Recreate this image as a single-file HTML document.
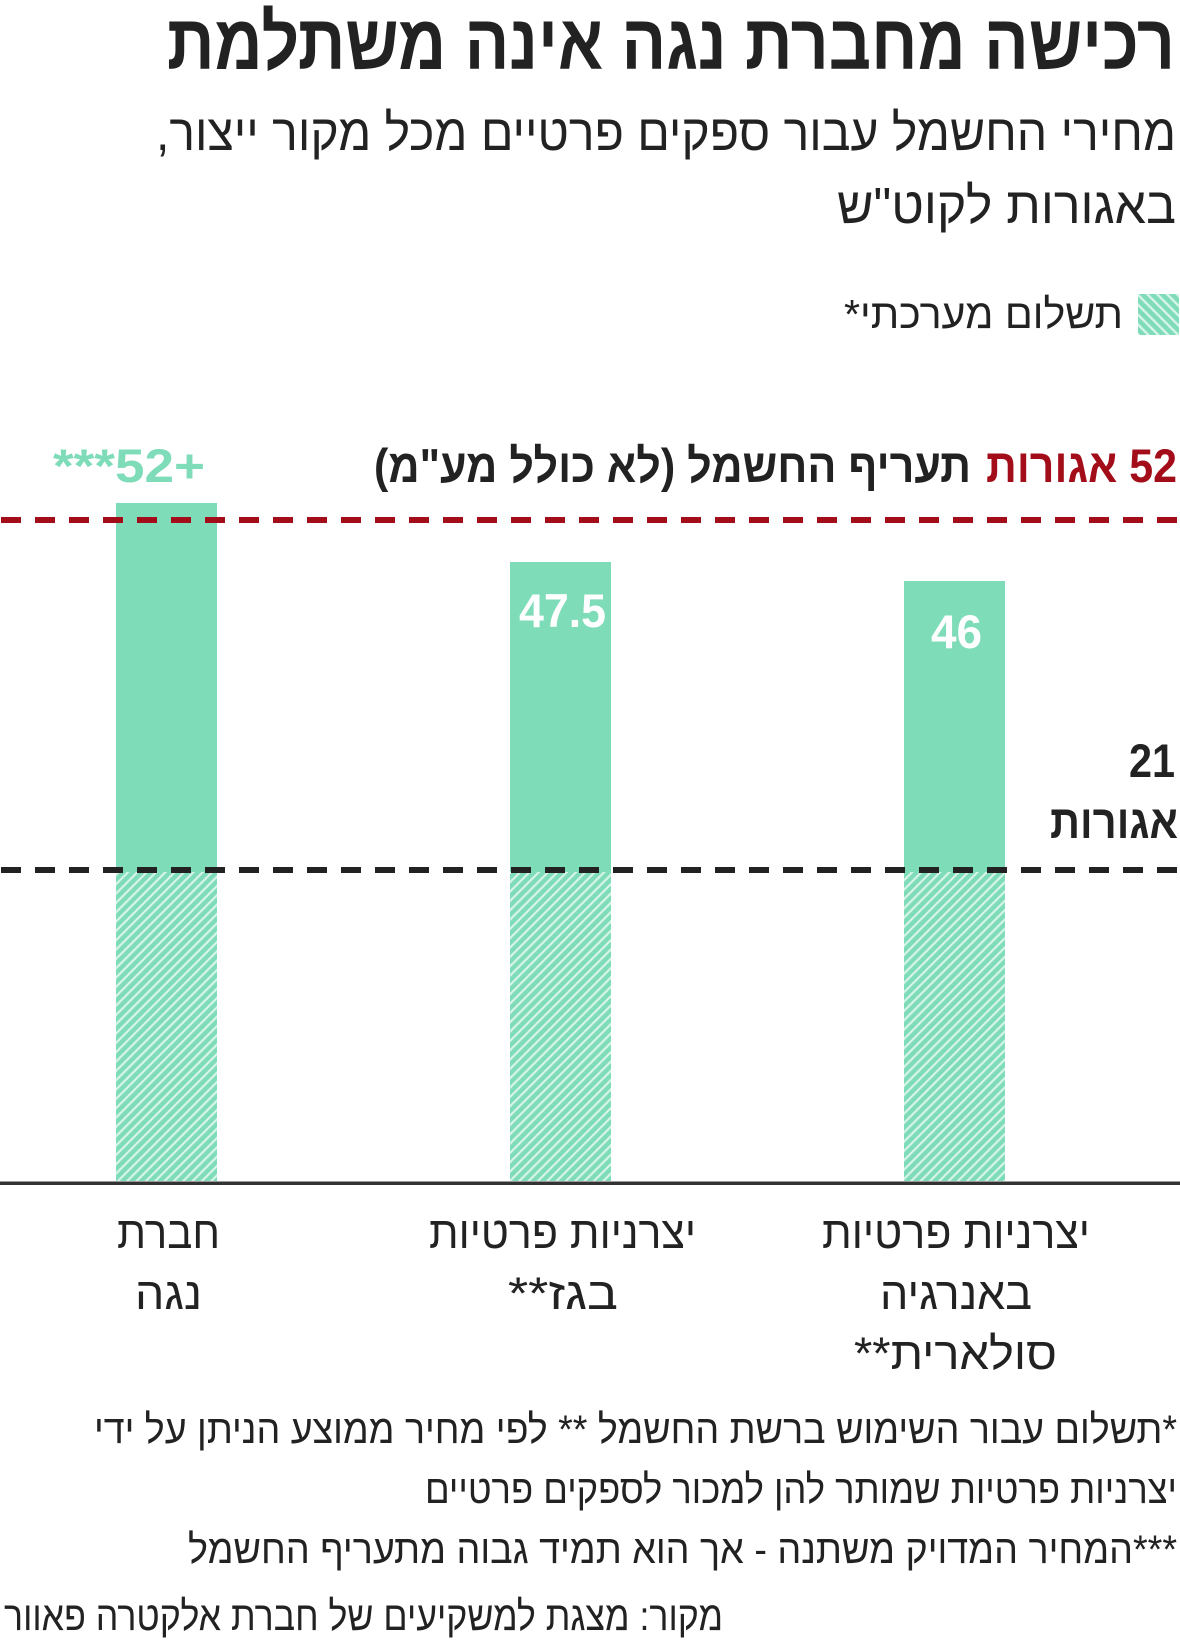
<!DOCTYPE html>
<html>
<head>
<meta charset="utf-8">
<style>
html,body{margin:0;padding:0;background:#fff;}
svg{display:block;}
text{font-family:"Liberation Sans","DejaVu Sans",sans-serif;}
.rtl{direction:rtl;unicode-bidi:embed;}
</style>
</head>
<body>
<svg width="1180" height="1646" viewBox="0 0 1180 1646" xmlns="http://www.w3.org/2000/svg">
  <defs>
    <pattern id="hb" patternUnits="userSpaceOnUse" width="6.6" height="6.6" patternTransform="rotate(45)">
      <rect x="0" y="0" width="6.6" height="6.6" fill="#7edcb9"/>
      <rect x="0" y="0" width="2.2" height="6.6" fill="#d6f4e9"/>
    </pattern>
    <pattern id="hl" patternUnits="userSpaceOnUse" width="7" height="7" patternTransform="rotate(-45)">
      <rect x="0" y="0" width="7" height="7" fill="#7edcb9"/>
      <rect x="0" y="0" width="2.4" height="7" fill="#d6f4e9"/>
    </pattern>
  </defs>

  <!-- Title -->
  <text class="rtl" x="671" y="69" text-anchor="middle" font-size="78" font-weight="bold" fill="#222" textLength="1008" lengthAdjust="spacingAndGlyphs">רכישה מחברת נגה אינה משתלמת</text>

  <!-- Subtitle -->
  <text class="rtl" x="666" y="150" text-anchor="middle" font-size="51" fill="#222" textLength="1020" lengthAdjust="spacingAndGlyphs">מחירי החשמל עבור ספקים פרטיים מכל מקור ייצור,</text>
  <text class="rtl" x="1006.5" y="223" text-anchor="middle" font-size="51" fill="#222" textLength="339" lengthAdjust="spacingAndGlyphs">באגורות לקוט"ש</text>

  <!-- Legend -->
  <rect x="1138" y="294" width="41" height="41" fill="url(#hl)"/>
  <text class="rtl" x="983.5" y="328" text-anchor="middle" font-size="41" fill="#222" textLength="279" lengthAdjust="spacingAndGlyphs">תשלום מערכתי*</text>

  <!-- Bars solid parts -->
  <rect x="116" y="503" width="101" height="369" fill="#7edcb9"/>
  <rect x="510" y="562" width="101" height="310" fill="#7edcb9"/>
  <rect x="904" y="581" width="101" height="291" fill="#7edcb9"/>
  <!-- Bars hatched parts -->
  <rect x="116" y="872" width="101" height="309" fill="url(#hb)"/>
  <rect x="510" y="872" width="101" height="309" fill="url(#hb)"/>
  <rect x="904" y="872" width="101" height="309" fill="url(#hb)"/>

  <!-- Dashed reference lines -->
  <line x1="1" y1="520" x2="1180" y2="520" stroke="#a30d19" stroke-width="6" stroke-dasharray="20 14"/>
  <line x1="1" y1="870" x2="1180" y2="870" stroke="#222" stroke-width="6" stroke-dasharray="20 14"/>

  <!-- Axis line -->
  <rect x="0" y="1181.5" width="1180" height="3.5" fill="#333"/>

  <!-- Top labels -->
  <text class="rtl" x="1081.5" y="482" text-anchor="middle" font-size="47" font-weight="bold" fill="#a30d19" textLength="191" lengthAdjust="spacingAndGlyphs">52 אגורות</text>
  <text class="rtl" x="672.5" y="482" text-anchor="middle" font-size="47" font-weight="bold" fill="#222" textLength="597" lengthAdjust="spacingAndGlyphs">תעריף החשמל (לא כולל מע"מ)</text>
  <text x="129" y="482" text-anchor="middle" font-size="47" font-weight="bold" fill="#7edcb9" textLength="152" lengthAdjust="spacingAndGlyphs">***52+</text>

  <!-- Values in bars -->
  <text x="562.5" y="627" text-anchor="middle" font-size="47" font-weight="bold" fill="#fff" textLength="87" lengthAdjust="spacingAndGlyphs">47.5</text>
  <text x="956.5" y="648" text-anchor="middle" font-size="47" font-weight="bold" fill="#fff" textLength="51" lengthAdjust="spacingAndGlyphs">46</text>

  <!-- 21 agorot label -->
  <text x="1152" y="777" text-anchor="middle" font-size="47" font-weight="bold" fill="#222" textLength="46" lengthAdjust="spacingAndGlyphs">21</text>
  <text class="rtl" x="1114" y="838" text-anchor="middle" font-size="47" font-weight="bold" fill="#222" textLength="128" lengthAdjust="spacingAndGlyphs">אגורות</text>

  <!-- Category labels -->
  <text class="rtl" x="168.5" y="1248" text-anchor="middle" font-size="45" fill="#222" textLength="103" lengthAdjust="spacingAndGlyphs">חברת</text>
  <text class="rtl" x="168.5" y="1309" text-anchor="middle" font-size="45" fill="#222" textLength="67" lengthAdjust="spacingAndGlyphs">נגה</text>

  <text class="rtl" x="562.5" y="1248" text-anchor="middle" font-size="45" fill="#222" textLength="267" lengthAdjust="spacingAndGlyphs">יצרניות פרטיות</text>
  <text class="rtl" x="563" y="1309" text-anchor="middle" font-size="45" fill="#222" textLength="110" lengthAdjust="spacingAndGlyphs">בגז**</text>

  <text class="rtl" x="956" y="1248" text-anchor="middle" font-size="45" fill="#222" textLength="268" lengthAdjust="spacingAndGlyphs">יצרניות פרטיות</text>
  <text class="rtl" x="956" y="1309" text-anchor="middle" font-size="45" fill="#222" textLength="152" lengthAdjust="spacingAndGlyphs">באנרגיה</text>
  <text class="rtl" x="955.5" y="1369" text-anchor="middle" font-size="45" fill="#222" textLength="203" lengthAdjust="spacingAndGlyphs">סולארית**</text>

  <!-- Footnotes -->
  <text class="rtl" x="635.5" y="1443" text-anchor="middle" font-size="40" fill="#222" textLength="1083" lengthAdjust="spacingAndGlyphs">*תשלום עבור השימוש ברשת החשמל ** לפי מחיר ממוצע הניתן על ידי</text>
  <text class="rtl" x="801" y="1503" text-anchor="middle" font-size="40" fill="#222" textLength="752" lengthAdjust="spacingAndGlyphs">יצרניות פרטיות שמותר להן למכור לספקים פרטיים</text>
  <text class="rtl" x="682.5" y="1563" text-anchor="middle" font-size="40" fill="#222" textLength="989" lengthAdjust="spacingAndGlyphs">***המחיר המדויק משתנה - אך הוא תמיד גבוה מתעריף החשמל</text>
  <text class="rtl" x="363.5" y="1630" text-anchor="middle" font-size="41" fill="#222" textLength="719" lengthAdjust="spacingAndGlyphs">מקור: מצגת למשקיעים של חברת אלקטרה פאוור</text>
</svg>
</body>
</html>
